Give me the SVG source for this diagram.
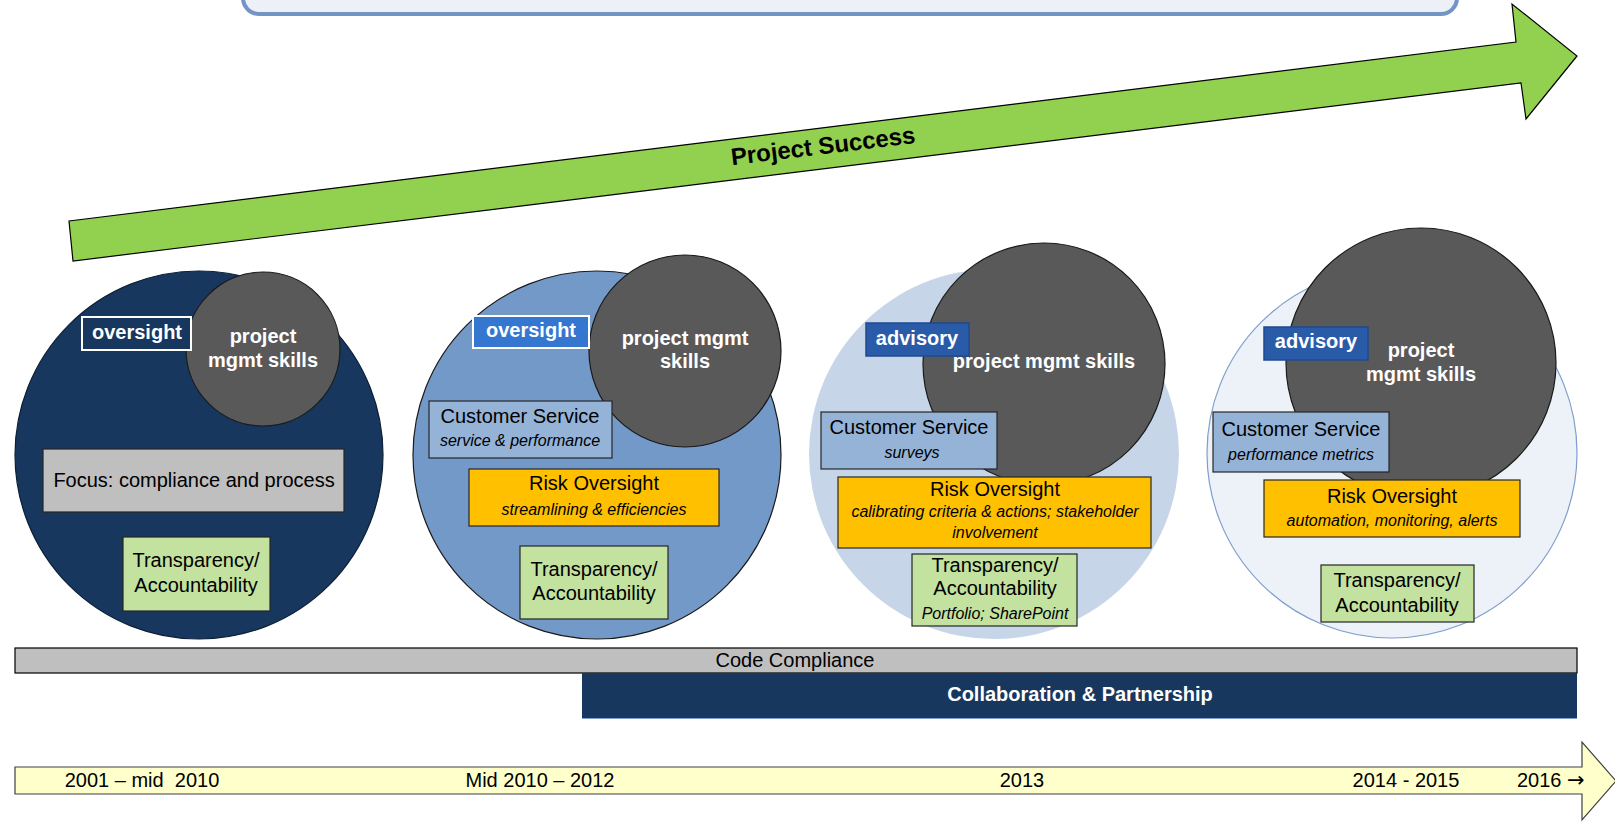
<svg xmlns="http://www.w3.org/2000/svg" width="1615" height="822" viewBox="0 0 1615 822">
<style>
text{font-family:"Liberation Sans",Arial,sans-serif;}
.t20{font-size:20px;fill:#000;text-anchor:middle;}
.b20w{font-size:20px;font-weight:bold;fill:#fff;text-anchor:middle;}
.i16{font-size:16px;font-style:italic;fill:#000;text-anchor:middle;}
.box{stroke:#262626;stroke-width:1.2;}
.gray{fill:#595959;stroke:#1a1a1a;stroke-width:1.2;}
.cs{fill:#95B3D7;}
.risk{fill:#FFC000;}
.tr{fill:#C3E19F;}
.adv{fill:#2A5BA8;stroke:#1F4A8E;stroke-width:1.5;}
</style>
<rect width="1615" height="822" fill="#fff"/>

<g id="top-banner">
<rect x="243" y="-40" width="1214" height="54" rx="16" ry="16" fill="#EDF1F7" stroke="#7395C6" stroke-width="4"/>
</g>

<g id="project-success">
<polygon points="69,221 1516,42 1512,4 1577,56 1526,119 1521,83 73,261" fill="#92D050" stroke="#000" stroke-width="1.2"/>
<text x="824" y="154" transform="rotate(-6.9 824 154)" font-size="24" font-weight="bold" text-anchor="middle" fill="#000">Project Success</text>
</g>

<g id="stage1">
<circle cx="199" cy="455" r="184" fill="#17375E" stroke="#0d1f36" stroke-width="1.2"/>
<circle class="gray" cx="263" cy="349" r="77"/>
<rect x="82" y="317" width="109" height="33" fill="#17375E" stroke="#fff" stroke-width="2"/>
<text class="b20w" x="137" y="339">oversight</text>
<text class="b20w" x="263" y="343">project</text>
<text class="b20w" x="263" y="367">mgmt skills</text>
<rect class="box" x="43" y="449" width="301" height="63" fill="#BFBFBF"/>
<text class="t20" x="194" y="487">Focus: compliance and process</text>
<rect class="box tr" x="123" y="537" width="147" height="74"/>
<text class="t20" x="196" y="567">Transparency/</text>
<text class="t20" x="196" y="592">Accountability</text>
</g>

<g id="stage2">
<circle cx="597" cy="455" r="184" fill="#7399C9" stroke="#1a1a1a" stroke-width="1.2"/>
<circle class="gray" cx="685" cy="351" r="96"/>
<rect x="473" y="316" width="116" height="32" fill="#3476D0" stroke="#fff" stroke-width="2"/>
<text class="b20w" x="531" y="337">oversight</text>
<text class="b20w" x="685" y="345">project mgmt</text>
<text class="b20w" x="685" y="368">skills</text>
<rect class="box cs" x="429" y="401" width="183" height="57"/>
<text class="t20" x="520" y="423">Customer Service</text>
<text class="i16" x="520" y="446">service &amp; performance</text>
<rect class="box risk" x="469" y="469" width="250" height="57"/>
<text class="t20" x="594" y="490">Risk Oversight</text>
<text class="i16" x="594" y="515">streamlining &amp; efficiencies</text>
<rect class="box tr" x="520" y="546" width="148" height="73"/>
<text class="t20" x="594" y="576">Transparency/</text>
<text class="t20" x="594" y="600">Accountability</text>
</g>

<g id="stage3">
<circle cx="994" cy="454" r="185" fill="#C6D6E8"/>
<circle class="gray" cx="1044" cy="364" r="121"/>
<rect class="adv" x="866" y="323" width="103" height="33"/>
<text class="b20w" x="917" y="345">advisory</text>
<text class="b20w" x="1044" y="368">project mgmt skills</text>
<rect class="box cs" x="821" y="412" width="176" height="57"/>
<text class="t20" x="909" y="434">Customer Service</text>
<text class="i16" x="912" y="458">surveys</text>
<rect class="box risk" x="838" y="477" width="313" height="71"/>
<text class="t20" x="995" y="496">Risk Oversight</text>
<text class="i16" x="995" y="517">calibrating criteria &amp; actions; stakeholder</text>
<text class="i16" x="995" y="538">involvement</text>
<rect class="box tr" x="912" y="554" width="165" height="72"/>
<text class="t20" x="995" y="572">Transparency/</text>
<text class="t20" x="995" y="595">Accountability</text>
<text class="i16" x="995" y="619">Portfolio; SharePoint</text>
</g>

<g id="stage4">
<circle cx="1392" cy="453" r="185" fill="#EDF1F8" stroke="#7F9FCE" stroke-width="1.2"/>
<circle class="gray" cx="1421" cy="363" r="135"/>
<rect class="adv" x="1264" y="327" width="104" height="33"/>
<text class="b20w" x="1316" y="348">advisory</text>
<text class="b20w" x="1421" y="357">project</text>
<text class="b20w" x="1421" y="381">mgmt skills</text>
<rect class="box cs" x="1213" y="412" width="176" height="60"/>
<text class="t20" x="1301" y="436">Customer Service</text>
<text class="i16" x="1301" y="460">performance metrics</text>
<rect class="box risk" x="1264" y="480" width="256" height="57"/>
<text class="t20" x="1392" y="503">Risk Oversight</text>
<text class="i16" x="1392" y="526">automation, monitoring, alerts</text>
<rect class="box tr" x="1321" y="565" width="153" height="57"/>
<text class="t20" x="1397" y="587">Transparency/</text>
<text class="t20" x="1397" y="612">Accountability</text>
</g>

<g id="code-compliance">
<rect x="15" y="648" width="1562" height="25" fill="#BFBFBF" stroke="#000" stroke-width="1.2"/>
<text class="t20" x="795" y="667">Code Compliance</text>
</g>

<g id="collaboration">
<rect x="582" y="673" width="995" height="46" fill="#17375E"/>
<line x1="582" y1="718.5" x2="1577" y2="718.5" stroke="#7F9FCE" stroke-width="1"/>
<text class="b20w" x="1080" y="701">Collaboration &amp; Partnership</text>
</g>

<g id="timeline">
<polygon points="15,767 1582,767 1582,742 1616,781 1582,820 1582,794 15,794" fill="#FFFFCC" stroke="#404040" stroke-width="1.2"/>
<text class="t20" x="142" y="787">2001 – mid&#160; 2010</text>
<text class="t20" x="540" y="787">Mid 2010 – 2012</text>
<text class="t20" x="1022" y="787">2013</text>
<text class="t20" x="1406" y="787">2014 - 2015</text>
<text x="1517" y="787" font-size="20" fill="#000">2016 <tspan font-family="'DejaVu Sans',sans-serif" font-size="21">→</tspan></text>
</g>

<g id="connectors"></g>
</svg>
